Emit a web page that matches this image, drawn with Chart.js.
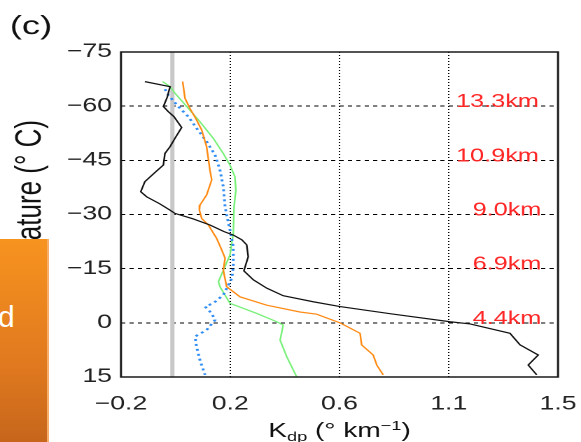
<!DOCTYPE html>
<html><head><meta charset="utf-8">
<script src="https://cdn.jsdelivr.net/npm/chart.js@4"></script>
<style>
html,body{margin:0;padding:0;background:#fff;overflow:hidden;width:581px;height:442px;}
#wrap{position:absolute;left:0;top:0;width:415px;height:442px;transform:scaleX(1.4);transform-origin:0 0;}
#box{position:absolute;left:0;top:239px;width:47px;height:210px;background:linear-gradient(#F7931F,#E0791F 60%,#C4641B);border-right:2px solid #F6AE68;overflow:hidden;}
#box span{position:absolute;left:-2px;top:61px;color:#fff;font:30px "Liberation Sans",sans-serif;line-height:normal;}
</style></head>
<body>
<div id="wrap"><canvas id="c"></canvas></div>
<div id="box"><span>d</span></div>
<script>
// ---- data ----
const TEMP_TICKS = [-75, -60, -45, -30, -15, 0, 15];
const TEMP_TICK_LABELS = ['−75', '−60', '−45', '−30', '−15', '0', '15'];
const KDP_TICKS = [-0.2, 0.225, 0.65, 1.075, 1.5];
const KDP_TICK_LABELS = ['−0.2', '0.2', '0.6', '1.1', '1.5'];

const BLACK_KDP  = [-0.107, -0.009, -0.02, -0.035, -0.016, 0.006, 0.036, 0.01, -0.009, -0.029, -0.035, -0.07, -0.107, -0.123, -0.1, -0.05, -0.009, 0.01, 0.08, 0.146, 0.2, 0.237, 0.27, 0.289, 0.295, 0.278, 0.315, 0.367, 0.431, 0.55, 0.652, 0.85, 1.08, 1.158, 1.313, 1.352, 1.423, 1.384, 1.417];
const BLACK_TEMP = [-66.8, -65.4, -62.5, -59.9, -58.5, -57.1, -54.1, -51.1, -48.8, -46.9, -43.7, -41.5, -39.1, -36.3, -34.9, -33.0, -31.2, -30.3, -28.8, -27.1, -25.3, -24.3, -23.0, -21.6, -18.3, -14.4, -11.9, -9.6, -7.5, -5.8, -4.5, -2.5, -0.3, 0.3, 2.9, 6.1, 8.9, 11.7, 14.4];

const ORANGE_KDP  = [0.04, 0.049, 0.068, 0.094, 0.114, 0.133, 0.146, 0.153, 0.133, 0.107, 0.105, 0.114, 0.14, 0.172, 0.19, 0.205, 0.198, 0.211, 0.263, 0.367, 0.496, 0.561, 0.652, 0.73, 0.736, 0.781, 0.795, 0.82];
const ORANGE_TEMP = [-66.8, -62.2, -59.4, -56.2, -53.4, -48.8, -42.3, -39.6, -35.4, -32.6, -31.2, -28.9, -27.1, -23.4, -20.5, -17.9, -14.6, -10.0, -7.2, -4.9, -3.0, -2.4, 0.0, 2.9, 6.1, 8.9, 11.7, 14.4];

const GREEN_KDP  = [-0.038, -0.009, 0.01, 0.056, 0.107, 0.159, 0.198, 0.224, 0.243, 0.247, 0.24, 0.237, 0.224, 0.179, 0.185, 0.224, 0.328, 0.406, 0.431, 0.419, 0.445, 0.483];
const GREEN_TEMP = [-66.8, -65.4, -63.6, -59.9, -55.7, -51.1, -46.9, -43.7, -40.5, -36.8, -32.2, -24.8, -18.8, -11.4, -10.0, -5.4, -2.6, -0.3, 0.6, 4.8, 9.4, 14.9];

const BLUE_KDP  = [-0.029, -0.016, 0.023, 0.062, 0.094, 0.133, 0.166, 0.185, 0.198, 0.205, 0.211, 0.224, 0.237, 0.237, 0.231, 0.198, 0.159, 0.127, 0.153, 0.166, 0.133, 0.088, 0.094, 0.107, 0.127];
const BLUE_TEMP = [-64.7, -63.1, -59.9, -57.1, -53.9, -50.2, -46.5, -42.3, -37.7, -32.2, -29.9, -25.7, -21.1, -15.5, -12.3, -7.7, -5.4, -4.5, -2.6, -0.8, 2.0, 3.8, 6.6, 10.3, 14.4];

const ZERO_LINE_KDP = [0, 0];
const ZERO_LINE_TEMP = [-75, 15];

const HEIGHT_LABELS = ['13.3km', '10.9km', '9.0km', '6.9km', '4.4km'];
const HEIGHT_LABEL_TEMP = [-60, -45, -30, -15, 0];
const HEIGHT_LABEL_KDP = [1.425, 1.425, 1.435, 1.435, 1.435];

const Y_TITLE = 'Temperature (° C)';
const FONT = '"Liberation Sans", Arial, sans-serif';

function pts(xs, ys) { return xs.map((x, i) => ({ x: x, y: ys[i] })); }

const overlay = {
  id: 'overlay',
  afterDatasetsDraw(chart) {
    const ctx = chart.ctx, a = chart.chartArea;
    const xs = chart.scales.x, ys = chart.scales.y;
    ctx.save();
    // frame
    ctx.strokeStyle = '#1a1a1a';
    ctx.lineWidth = 1.5;
    ctx.strokeRect(a.left, a.top, a.right - a.left, a.bottom - a.top);
    // height labels
    ctx.fillStyle = '#FF2626';
    ctx.font = '18px ' + FONT;
    ctx.textAlign = 'right';
    ctx.textBaseline = 'alphabetic';
    HEIGHT_LABELS.forEach((t, i) => {
      ctx.fillText(t, xs.getPixelForValue(HEIGHT_LABEL_KDP[i]), ys.getPixelForValue(HEIGHT_LABEL_TEMP[i]) + 1);
    });
    // panel letter
    ctx.fillStyle = '#111';
    ctx.textAlign = 'left';
    ctx.font = '26px ' + FONT;
    ctx.fillText('(c)', 7, 34);
    // y-axis title (rotated, partly hidden by the box on the left)
    ctx.save();
    ctx.font = '26px ' + FONT;
    ctx.textAlign = 'right';
    ctx.translate(29, 120);
    ctx.rotate(-Math.PI / 2);
    ctx.fillText(Y_TITLE, 0, 0);
    ctx.restore();
    // x-axis title  K_dp (° km^-1)
    const parts = [
      { t: 'K', f: '20px ' + FONT, dy: 0 },
      { t: 'dp', f: '13px ' + FONT, dy: 4 },
      { t: ' (° km', f: '20px ' + FONT, dy: 0 },
      { t: '−1', f: '13px ' + FONT, dy: -7 },
      { t: ')', f: '20px ' + FONT, dy: 0 }
    ];
    let total = 0;
    parts.forEach(p => { ctx.font = p.f; p.w = ctx.measureText(p.t).width; total += p.w; });
    let x = (a.left + a.right) / 2 - total / 2;
    const base = 437;
    parts.forEach(p => { ctx.font = p.f; ctx.fillText(p.t, x, base + p.dy); x += p.w; });
    ctx.restore();
  }
};

new Chart(document.getElementById('c'), {
  type: 'line',
  data: {
    datasets: [
      { data: pts(BLACK_KDP, BLACK_TEMP), borderColor: '#111', borderWidth: 1.2, order: 0 },
      { data: pts(ORANGE_KDP, ORANGE_TEMP), borderColor: '#FF8A12', borderWidth: 1.2, order: 1 },
      { data: pts(BLUE_KDP, BLUE_TEMP), borderColor: '#2E8CF5', borderWidth: 2, borderDash: [2, 3], order: 2 },
      { data: pts(GREEN_KDP, GREEN_TEMP), borderColor: '#78F078', borderWidth: 1.2, order: 3 },
      { data: pts(ZERO_LINE_KDP, ZERO_LINE_TEMP), borderColor: '#C8C8C8', borderWidth: 3, order: 10 }
    ]
  },
  options: {
    animation: false,
    responsive: true,
    maintainAspectRatio: false,
    devicePixelRatio: 2,
    layout: { padding: { left: 0, right: 16.4, top: 52, bottom: 0 } },
    elements: { point: { radius: 0, hoverRadius: 0 }, line: { tension: 0, fill: false } },
    plugins: { legend: { display: false }, tooltip: { enabled: false } },
    scales: {
      x: {
        type: 'linear', min: -0.2, max: 1.5,
        afterBuildTicks: s => { s.ticks = KDP_TICKS.map(v => ({ value: v })); },
        afterFit: s => { s.height = 65; s.paddingLeft = 0; s.paddingRight = 0; },
        ticks: { callback: (v, i) => KDP_TICK_LABELS[i], font: { family: FONT, size: 19 }, color: '#222', padding: 16, maxRotation: 0, autoSkip: false },
        grid: { color: '#000', lineWidth: 1, drawTicks: false },
        border: { display: false, dash: [1, 2] }
      },
      y: {
        type: 'linear', min: -75, max: 15, reverse: true,
        afterBuildTicks: s => { s.ticks = TEMP_TICKS.map(v => ({ value: v })); },
        afterFit: s => { s.width = 86.4; s.paddingTop = 0; s.paddingBottom = 0; },
        ticks: { callback: (v, i) => TEMP_TICK_LABELS[i], font: { family: FONT, size: 19 }, color: '#222', padding: 6.4, autoSkip: false },
        grid: { color: '#000', lineWidth: 1, drawTicks: false },
        border: { display: false, dash: [3, 3] }
      }
    }
  },
  plugins: [overlay]
});
</script>
</body></html>
